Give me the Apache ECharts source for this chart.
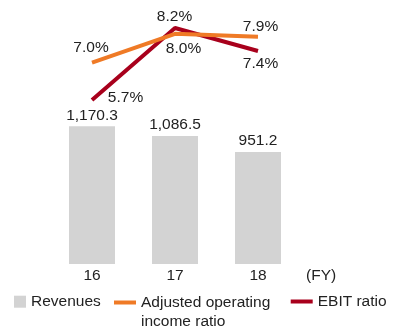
<!DOCTYPE html>
<html>
<head>
<meta charset="utf-8">
<script src="https://cdn.jsdelivr.net/npm/echarts@6/dist/echarts.min.js"></script>
<style>
  html, body { margin: 0; padding: 0; background: #ffffff; }
  #chart { width: 404px; height: 329px; }
</style>
</head>
<body>
<div id="chart"></div>
<script>
// Fiscal years on the category axis
const years = ['16', '17', '18'];
// Revenues (bars, left scale)
const revenues = [1170.3, 1086.5, 951.2];
// Ratios in percent (lines, right scale)
const adjustedOperatingIncomeRatio = [7.0, 8.0, 7.9];
const ebitRatio = [5.7, 8.2, 7.4];

const FONT = '"Liberation Sans", Arial, Helvetica, sans-serif';
const TEXT = '#222222';
const FS = 15.5;

// Where each percentage label sits relative to its point (center offsets)
const adjLabelOffsets = [[-1, -14.5], [8.5, 15], [2.5, -9.7]];
const ebitLabelOffsets = [[33.5, -2], [-0.5, -11], [2.5, 13]];

function pctData(values, offsets) {
  return values.map((v, i) => ({
    value: v,
    label: {
      position: offsets[i],
      align: 'center',
      verticalAlign: 'middle'
    }
  }));
}

const chart = echarts.init(document.getElementById('chart'), null, { renderer: 'canvas' });

const pctLabel = {
  show: true,
  color: TEXT,
  fontFamily: FONT,
  fontSize: FS,
  formatter: p => p.value.toFixed(1) + '%'
};

chart.setOption({
  animation: false,
  backgroundColor: '#ffffff',
  textStyle: { fontFamily: FONT, color: TEXT },
  grid: { left: 50.5, right: 104.5, top: 5, bottom: 65, containLabel: false },
  xAxis: {
    type: 'category',
    data: years,
    boundaryGap: true,
    axisLine: { show: false },
    axisTick: { show: false },
    axisLabel: { color: TEXT, fontFamily: FONT, fontSize: FS, margin: 4 },
    name: '(FY)',
    nameLocation: 'end',
    nameGap: 6.5,
    nameTextStyle: {
      color: TEXT, fontFamily: FONT, fontSize: FS,
      align: 'left', verticalAlign: 'top', padding: [4, 0, 0, 0]
    }
  },
  yAxis: [
    { type: 'value', min: 0, max: 2200, show: false, splitLine: { show: false } },
    { type: 'value', min: 0, max: 9, show: false, splitLine: { show: false } }
  ],
  legend: [
    {
      data: [{ name: 'Revenues', icon: 'rect' }],
      left: 14, top: 293.7, padding: 0,
      itemWidth: 12, itemHeight: 12, itemGap: 0,
      textStyle: { color: TEXT, fontFamily: FONT, fontSize: FS, lineHeight: 16 }
    },
    {
      data: [{ name: 'Adjusted operating income ratio', icon: 'rect' }],
      left: 114, top: 274, padding: 0,
      itemWidth: 22, itemHeight: 4, itemGap: 0,
      // leading empty line keeps the first text line level with the swatch
      formatter: () => '\nAdjusted operating\nincome ratio',
      textStyle: { color: TEXT, fontFamily: FONT, fontSize: FS, lineHeight: 19 }
    },
    {
      data: [{ name: 'EBIT ratio', icon: 'rect' }],
      left: 290.7, top: 293.5, padding: 0,
      itemWidth: 22, itemHeight: 4, itemGap: 0,
      textStyle: { color: TEXT, fontFamily: FONT, fontSize: FS, lineHeight: 16 }
    }
  ],
  series: [
    {
      name: 'Revenues',
      type: 'bar',
      data: revenues,
      barWidth: 46,
      itemStyle: { color: '#d3d3d3' },
      label: {
        show: true, position: 'top', distance: 3,
        color: TEXT, fontFamily: FONT, fontSize: FS,
        formatter: p => p.value.toLocaleString('en-US', { minimumFractionDigits: 1, maximumFractionDigits: 1 })
      },
      z: 1
    },
    {
      name: 'EBIT ratio',
      type: 'line',
      yAxisIndex: 1,
      data: pctData(ebitRatio, ebitLabelOffsets),
      symbol: 'circle',
      symbolSize: 0,
      showSymbol: true,
      lineStyle: { color: '#a8001c', width: 4 },
      itemStyle: { color: '#a8001c' },
      label: pctLabel,
      z: 3
    },
    {
      name: 'Adjusted operating income ratio',
      type: 'line',
      yAxisIndex: 1,
      data: pctData(adjustedOperatingIncomeRatio, adjLabelOffsets),
      symbol: 'circle',
      symbolSize: 0,
      showSymbol: true,
      lineStyle: { color: '#ef7a26', width: 4 },
      itemStyle: { color: '#ef7a26' },
      label: pctLabel,
      z: 4
    }
  ]
});
</script>
</body>
</html>
